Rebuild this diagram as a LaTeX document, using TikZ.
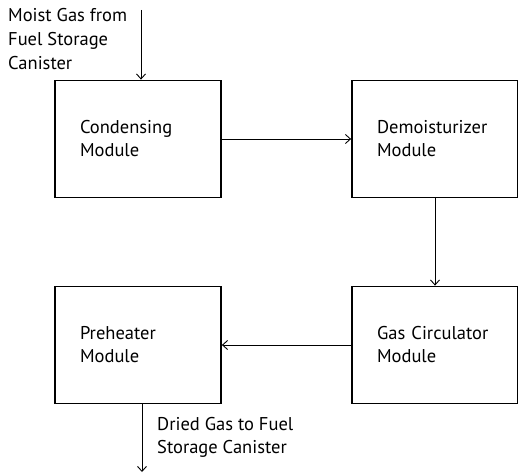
\documentclass[tikz,border=0pt]{standalone}
\usepackage{fontspec}
\setmainfont{PT Sans}
\usetikzlibrary{arrows.meta}
\tikzset{
  modbox/.style={draw=black, line width=1.8pt, minimum width=166pt, minimum height=117pt,
    text width=116pt, inner xsep=25pt, align=left, font=\fontsize{18.5}{23}\selectfont},
  lbl/.style={anchor=base west, align=left, inner sep=0pt, font=\fontsize{18.5}{24}\selectfont},
  flow/.style={line width=0.9pt, -{Straight Barb[length=5pt,width=9pt,line width=0.9pt]}}
}
\begin{document}
\begin{tikzpicture}[x=1pt,y=-1pt]
\useasboundingbox (0,0) rectangle (518,473);
\clip (0,0) rectangle (518,473);
\node[modbox] (cond) at (138,139) {Condensing\\Module};
\node[modbox] (dem) at (435,139) {Demoisturizer\\Module};
\node[modbox] (gas) at (435,345) {Gas Circulator\\Module};
\node[modbox] (pre) at (138,345) {Preheater\\Module};
\node[lbl] (in) at (8,70) {Moist Gas from\\Fuel Storage\\Canister};
\node[lbl, font=\fontsize{18.5}{23}\selectfont] (outl) at (157,453) {Dried Gas to Fuel\\Storage Canister};
\coordinate (src) at (141,10);
\coordinate (dst) at (142,472);
\draw[flow] (src) -- (src |- cond.north);
\draw[flow] (cond.east) -- (dem.west);
\draw[flow] (dem.south) -- (gas.north);
\draw[flow] (gas.west) -- (pre.east);
\draw[flow] (pre.south -| dst) -- (dst);
\end{tikzpicture}
\end{document}
